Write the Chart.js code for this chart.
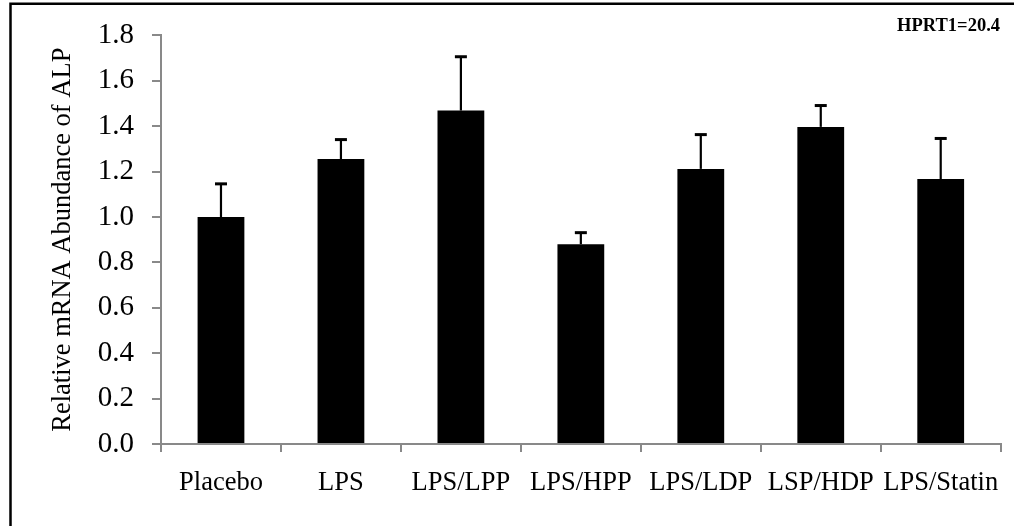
<!DOCTYPE html>
<html>
<head>
<meta charset="utf-8">
<script src="https://cdn.jsdelivr.net/npm/chart.js@4"></script>
<style>
  html, body { margin: 0; padding: 0; background: #fff; }
  #wrap { width: 1014px; height: 526px; position: relative; }
</style>
</head>
<body>
<div id="wrap"><canvas id="chartCanvas" width="1014" height="526"></canvas></div>
<script>
// data
const categories = ['Placebo', 'LPS', 'LPS/LPP', 'LPS/HPP', 'LPS/LDP', 'LSP/HDP', 'LPS/Statin'];
const means = [1.00, 1.255, 1.469, 0.880, 1.212, 1.397, 1.167];
const errors = [0.146, 0.086, 0.237, 0.051, 0.151, 0.094, 0.179];
const yTicks = [0, 0.2, 0.4, 0.6, 0.8, 1.0, 1.2, 1.4, 1.6, 1.8];
const note = 'HPRT1=20.4';

const axisGrey = '#898989';
const serif = "'Liberation Serif', 'Times New Roman', serif";

// error bars, only the upper half
const errorBars = {
  id: 'errorBars',
  afterDatasetsDraw(chart) {
    const ctx = chart.ctx;
    const meta = chart.getDatasetMeta(0);
    const yScale = chart.scales.y;
    ctx.save();
    ctx.strokeStyle = '#000';
    meta.data.forEach((bar, i) => {
      const x = bar.x;
      const yTop = yScale.getPixelForValue(means[i] + errors[i]);
      const yBase = yScale.getPixelForValue(means[i]);
      ctx.lineWidth = 2.2;
      ctx.beginPath();
      ctx.moveTo(x, yBase);
      ctx.lineTo(x, yTop);
      ctx.stroke();
      ctx.lineWidth = 3;
      ctx.beginPath();
      ctx.moveTo(x - 6, yTop);
      ctx.lineTo(x + 6, yTop);
      ctx.stroke();
    });
    ctx.restore();
  }
};

// frame lines (top and left) and the note in the corner
const frameAndNote = {
  id: 'frameAndNote',
  afterDraw(chart) {
    const ctx = chart.ctx;
    ctx.save();
    ctx.strokeStyle = '#000';
    ctx.lineWidth = 2.5;
    ctx.beginPath();
    ctx.moveTo(1014, 3.7);
    ctx.lineTo(10.5, 3.7);
    ctx.lineTo(10.5, 526);
    ctx.stroke();
    ctx.fillStyle = '#000';
    ctx.font = "bold 18.5px " + serif;
    ctx.textAlign = 'right';
    ctx.textBaseline = 'alphabetic';
    ctx.fillText(note, 1000, 30.5);
    ctx.restore();
  }
};

const ctx = document.getElementById('chartCanvas').getContext('2d');
new Chart(ctx, {
  type: 'bar',
  data: {
    labels: categories,
    datasets: [{
      data: means,
      backgroundColor: '#000',
      borderWidth: 0,
      categoryPercentage: 1,
      barPercentage: 0.39
    }]
  },
  options: {
    responsive: false,
    animation: false,
    layout: {
      autoPadding: false,
      padding: { left: 10, right: 12, top: 34, bottom: 0 }
    },
    plugins: {
      legend: { display: false },
      tooltip: { enabled: false }
    },
    scales: {
      x: {
        grid: {
          offset: true,
          drawOnChartArea: false,
          drawTicks: true,
          tickLength: 8,
          color: axisGrey,
          lineWidth: 2
        },
        border: { color: axisGrey, width: 2 },
        ticks: {
          color: '#000',
          padding: 15,
          maxRotation: 0,
          autoSkip: false,
          font: { family: serif, size: 26.5 }
        },
        afterFit(scale) { scale.height = 82; }
      },
      y: {
        min: 0,
        max: 1.8,
        afterBuildTicks(scale) {
          scale.ticks = yTicks.map(v => ({ value: v }));
        },
        grid: {
          drawOnChartArea: false,
          drawTicks: true,
          tickLength: 9,
          color: axisGrey,
          lineWidth: 2
        },
        border: { color: axisGrey, width: 2 },
        ticks: {
          color: '#000',
          padding: 18,
          font: { family: serif, size: 29 },
          callback: v => Number(v).toFixed(1)
        },
        title: {
          display: true,
          text: 'Relative mRNA Abundance of ALP',
          color: '#000',
          font: { family: serif, size: 26.5 },
          padding: { top: 37, bottom: 0 }
        },
        afterFit(scale) { scale.width = 151; }
      }
    }
  },
  plugins: [errorBars, frameAndNote]
});
</script>
</body>
</html>
